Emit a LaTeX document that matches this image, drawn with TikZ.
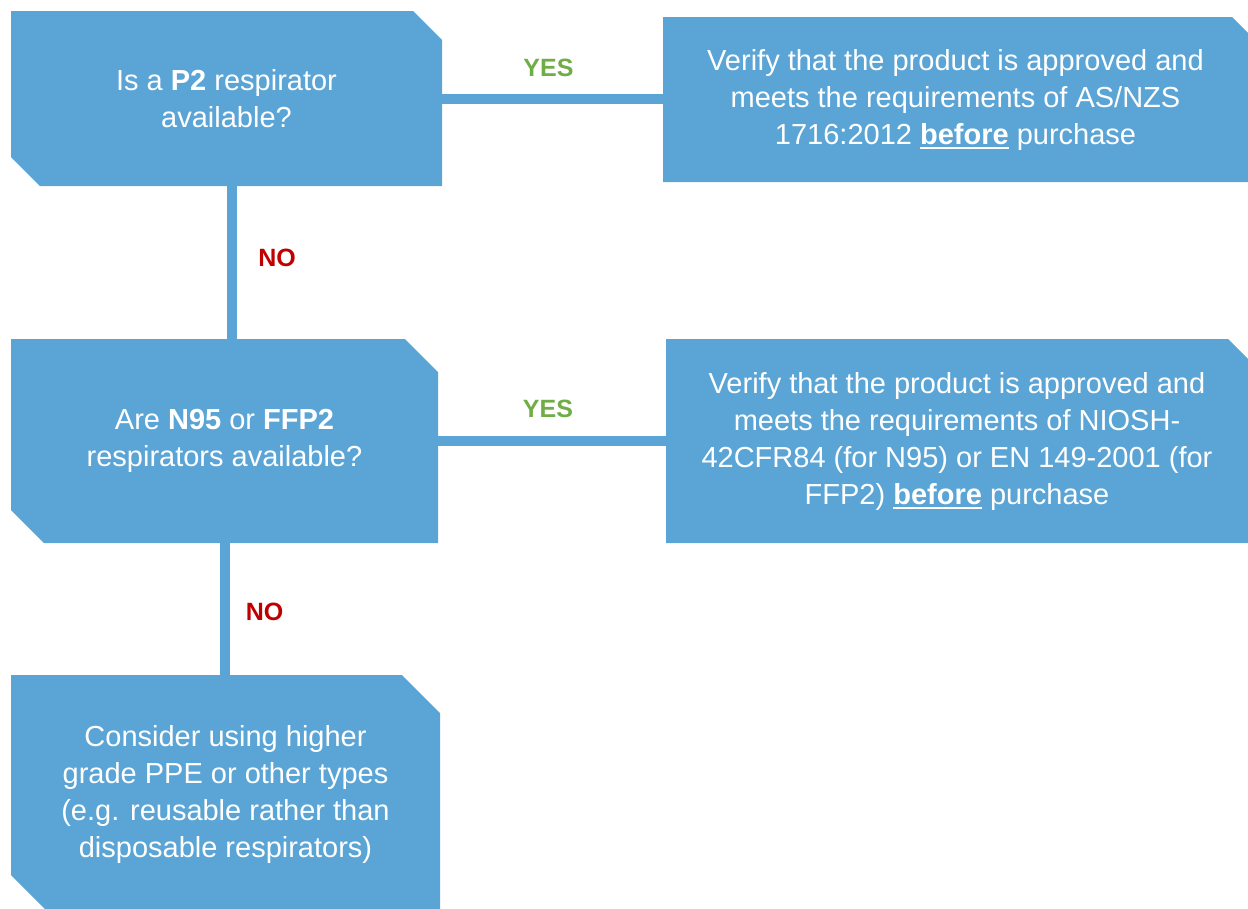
\documentclass[tikz,border=0pt]{standalone}
\usepackage{fontspec}
\setmainfont{Liberation Sans}
\usepackage{xcolor}
\usetikzlibrary{shapes.misc}

\definecolor{boxblue}{RGB}{91,165,214}
\definecolor{yesgreen}{RGB}{112,173,71}
\definecolor{nored}{RGB}{192,0,0}
\newcommand{\ulbold}[1]{\setbox0\hbox{\bfseries #1}\rlap{\rule[-5pt]{\wd0}{2.5pt}}\box0\relax}

\begin{document}
\begin{tikzpicture}[x=1pt,y=-1pt,
    qbox/.style={chamfered rectangle,chamfered rectangle corners={north east,south west},
      fill=boxblue,text=white,align=center,inner sep=0pt,
      font=\fontsize{29}{37}\selectfont},
    abox/.style={qbox,chamfered rectangle corners=north east},
    link/.style={draw=boxblue,line width=10pt},
    yeslbl/.style={text=yesgreen,font=\fontsize{25}{30}\selectfont\bfseries},
    nolbl/.style={text=nored,font=\fontsize{25}{30}\selectfont\bfseries}]
  \useasboundingbox (0,0) rectangle (1248,908);
  \clip (0,0) rectangle (1248,908);

  \node[qbox,chamfered rectangle sep=14.5pt,minimum width=431pt,minimum height=175pt]
    (p2) at (226.5,98.5) {Is a \textbf{P2} respirator\\available?};
  \node[abox,chamfered rectangle sep=8pt,minimum width=585pt,minimum height=165pt]
    (p2ok) at (955.5,99.5) {Verify that the product is approved and\\meets the requirements of AS/NZS\\1716:2012 \ulbold{before} purchase};
  \node[qbox,chamfered rectangle sep=16.5pt,minimum width=427pt,minimum height=204pt]
    (n95) at (224.5,441) {Are \textbf{N95} or \textbf{FFP2}\\respirators available?};
  \node[abox,chamfered rectangle sep=10pt,minimum width=582pt,minimum height=204pt]
    (n95ok) at (957,441) {Verify that the product is approved and\\meets the requirements of NIOSH-\\42CFR84 (for N95) or EN 149-2001 (for\\FFP2) \ulbold{before} purchase};
  \node[qbox,chamfered rectangle sep=19pt,minimum width=429pt,minimum height=238pt]
    (other) at (225.5,794) {Consider using higher\\grade PPE or other types\\(e.g. reusable rather than\\disposable respirators)};

  \path[link] (p2.east) -- node[yeslbl,xshift=-4pt,yshift=31pt] {YES} (p2.east -| p2ok.west);
  \path[link] ([xshift=5.5pt]p2.south) -- node[nolbl,xshift=45pt,yshift=5pt] {NO}
    ([xshift=5.5pt]p2.south |- n95.north);
  \path[link] (n95.east) -- node[yeslbl,xshift=-4pt,yshift=32pt] {YES} (n95.east -| n95ok.west);
  \path[link] (n95.south) -- node[nolbl,xshift=40pt,yshift=-3pt] {NO} (n95.south |- other.north);
\end{tikzpicture}
\end{document}
